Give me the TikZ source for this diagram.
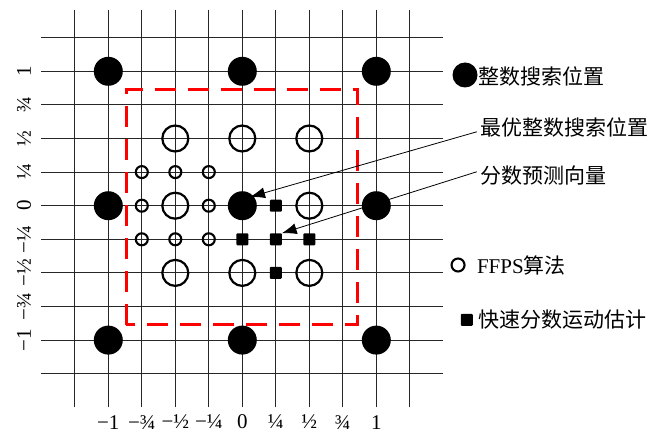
\documentclass[tikz,border=0pt]{standalone}
\usepackage{fontspec}
\setmainfont{Liberation Serif}
\newfontfamily\cjk{Noto Sans CJK SC}
\usetikzlibrary{arrows.meta}
\tikzset{
  gridline/.style={line width=0.9pt, black!85},
  bigdot/.style={circle, fill=black, inner sep=0pt, minimum size=29pt},
  bigring/.style={circle, draw=black, line width=2.2pt, inner sep=0pt, minimum size=26pt},
  smallring/.style={circle, draw=black, line width=2.1pt, inner sep=0pt, minimum size=12pt},
  sqmark/.style={rectangle, fill=black, rounded corners=1pt, inner sep=0pt, minimum size=12pt},
  redbox/.style={draw=red, line width=3pt, dash pattern=on 21pt off 12pt},
  pointer/.style={line width=0.8pt, -{Latex[length=15pt,width=11pt]}},
  axlbl/.style={inner sep=0pt, font=\fontsize{21}{23}\selectfont},
  legtext/.style={anchor=west, inner sep=0pt, font=\fontsize{21}{24}\selectfont},
}
\begin{document}
\begin{tikzpicture}[x=33.5pt,y=33.6pt]
\useasboundingbox (-7.233,-6.795) rectangle (12.110,6.122);
% grid
\foreach \k in {-5,...,5} {
  \draw[gridline] (\k,-6) -- (\k,5.82);
  \draw[gridline] (-6,\k) -- (6,\k);
}
% integer positions
\foreach \i in {-4,0,4} \foreach \j in {-4,0,4}
  \node[bigdot] (d\i\j) at (\i,\j) {};
% half positions
\foreach \p/\q in {-2/2,0/2,2/2,-2/0,2/0,-2/-2,0/-2,2/-2}
  \node[bigring] (h\p\q) at (\p,\q) {};
% quarter positions (FFPS)
\foreach \p/\q in {-3/1,-2/1,-1/1,-3/0,-1/0,-3/-1,-2/-1,-1/-1}
  \node[smallring] (f\p\q) at (\p,\q) {};
% fast fractional ME
\foreach \p/\q in {1/0,0/-1,1/-1,2/-1,1/-2}
  \node[sqmark] (s\p\q) at (\p,\q) {};
% red dashed box
\draw[redbox] (-3.47,-3.54) rectangle (3.43,3.47);
% axis labels
\foreach \k/\t in {-4/−1,-3/−¾,-2/−½,-1/−¼,0/0,1/¼,2/½,3/¾,4/1} {
  \node[axlbl] (xl\k) at (\k,-6.44) {\t};
  \node[axlbl, rotate=90] (yl\k) at (-6.516,\k) {\t};
}
% legend
\node[bigdot, minimum size=25pt] (lg1) at (6.648,3.89) {};
\node[legtext] (lt1) at (7.03,3.86) {\cjk 整数搜索位置};
\node[legtext] (lt2) at (7.096,2.342) {\cjk 最优整数搜索位置};
\node[legtext] (lt3) at (7.096,0.884) {\cjk 分数预测向量};
\node[smallring, minimum size=13pt] (lg4) at (6.44,-1.765) {};
\node[legtext] (lt4) at (7.0,-1.765) {FFPS{\cjk 算法}};
\node[sqmark] (lg5) at (6.70,-3.40) {};
\node[legtext, font=\fontsize{21}{24}\selectfont] (lt5) at (7.03,-3.40) {\cjk 快速分数运动估计};
% pointers
\coordinate (s1) at (7.0,2.20);
\coordinate (tip1) at (0.23,0.26);
\coordinate (s2) at (7.0,1.01);
\coordinate (tip2) at (1.176,-0.821);
\draw[pointer] (s1) -- (tip1);
\draw[pointer] (s2) -- (tip2);
\end{tikzpicture}
\end{document}
